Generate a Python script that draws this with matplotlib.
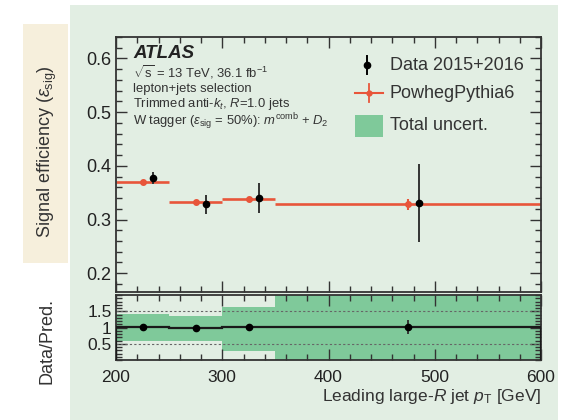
import numpy as np
import matplotlib
matplotlib.use("Agg")
import matplotlib.pyplot as plt
from matplotlib.patches import Rectangle
from matplotlib.lines import Line2D
from matplotlib.ticker import MultipleLocator, FixedLocator, FixedFormatter

plt.rcParams['font.family'] = ['Liberation Sans', 'DejaVu Sans']
plt.rcParams['mathtext.fontset'] = 'custom'
plt.rcParams['mathtext.rm'] = 'Liberation Sans'
plt.rcParams['mathtext.it'] = 'Liberation Sans:italic'
plt.rcParams['mathtext.bf'] = 'Liberation Sans:bold'

# pT bins [GeV]
bin_edges = [200, 250, 300, 350, 600]
mc_x = [225, 275, 325, 475]
data_x = [235, 285, 335, 485]

# signal efficiency
mc_eff = [0.370, 0.333, 0.339, 0.328]
mc_err = [0.002, 0.002, 0.002, 0.010]
data_eff = [0.378, 0.328, 0.340, 0.331]
data_err = [0.011, 0.017, 0.028, 0.072]

# total uncertainty band on the ratio
band_low = [0.60, 0.60, 0.29, 0.0]
band_high = [1.41, 1.34, 1.64, 2.0]

GREEN_BG = '#e2eee3'
BEIGE = '#f6efdc'
BAND = '#7fc99a'
RED = '#e8553a'
FRAME = '#333333'

W, H = 562, 420
fig = plt.figure(figsize=(W / 100, H / 100), dpi=100)
fig.patch.set_facecolor('white')

def fx(px):
    return px / W

def fy(py):
    return 1 - py / H

# panel backgrounds
fig.add_artist(Rectangle((fx(70), 0), fx(558) - fx(70), fy(5), transform=fig.transFigure,
                         facecolor=GREEN_BG, edgecolor='none', zorder=-10))
fig.add_artist(Rectangle((fx(23), fy(263)), fx(68) - fx(23), fy(24) - fy(263),
                         transform=fig.transFigure, facecolor=BEIGE, edgecolor='none', zorder=-10))

ax = fig.add_axes([fx(116), fy(292), fx(541) - fx(116), fy(37) - fy(292)])
ax2 = fig.add_axes([fx(116), fy(360), fx(541) - fx(116), fy(295) - fy(360)])

for a in (ax, ax2):
    a.set_facecolor('none')
    for s in a.spines.values():
        s.set_color(FRAME)
        s.set_linewidth(1.3)
    a.tick_params(which='both', direction='in', top=True, right=True, color=FRAME,
                  labelsize=13, labelcolor='#222222', width=1.0)
    a.tick_params(which='major', length=8)
    a.tick_params(which='minor', length=4)
    a.set_xlim(200, 600)
    a.xaxis.set_major_locator(MultipleLocator(100))
    a.xaxis.set_minor_locator(MultipleLocator(20))

# top panel: efficiencies
ax.set_ylim(0.165, 0.64)
ax.yaxis.set_major_locator(MultipleLocator(0.1))
ax.yaxis.set_minor_locator(MultipleLocator(0.02))
ax.tick_params(labelbottom=False)

ax.hlines(mc_eff, bin_edges[:-1], bin_edges[1:], color=RED, lw=1.9, zorder=2)
ax.errorbar(mc_x, mc_eff, yerr=mc_err, fmt='o', color=RED, ms=4, elinewidth=1.5,
            capsize=0, zorder=3)
ax.errorbar(data_x, data_eff, yerr=data_err, fmt='o', color='black', ms=4.5,
            elinewidth=1.4, ecolor='#333333', capsize=0, zorder=4)

# labels in the top panel
ax.text(0.04, 0.937, 'ATLAS', transform=ax.transAxes, fontsize=13.5, fontweight='bold',
        fontstyle='italic', va='center', ha='left', color='#222222')
info = [
    (0.861, r'$\sqrt{\mathrm{s}}$ = 13 TeV, 36.1 fb$^{-1}$'),
    (0.798, 'lepton+jets selection'),
    (0.737, r'Trimmed anti-$k_{t}$, $R$=1.0 jets'),
    (0.668, r'W tagger ($\epsilon_{\mathrm{sig}}$ = 50%): $m^{\mathrm{comb}}$ + $D_{2}$'),
]
for yy, t in info:
    ax.text(0.04, yy, t, transform=ax.transAxes, fontsize=9.4, va='center', ha='left',
            color='#333333')

# legend
tx = 0.6447
ax.add_line(Line2D([0.5906], [0.890], marker='o', ms=4.5, color='black',
                   transform=ax.transAxes))
ax.add_line(Line2D([0.5906, 0.5906], [0.855, 0.925], lw=1.4, color='black',
                   transform=ax.transAxes))
ax.text(tx, 0.890, 'Data 2015+2016', transform=ax.transAxes, fontsize=13, va='center',
        color='#333333')
ax.add_line(Line2D([0.5624, 0.6282], [0.780, 0.780], lw=1.5, color=RED,
                   transform=ax.transAxes))
ax.add_line(Line2D([0.5953, 0.5953], [0.745, 0.815], lw=1.3, color=RED,
                   transform=ax.transAxes))
ax.add_line(Line2D([0.5953], [0.780], marker='o', ms=3.5, color=RED,
                   transform=ax.transAxes))
ax.text(tx, 0.780, 'PowhegPythia6', transform=ax.transAxes, fontsize=13, va='center',
        color='#333333')
ax.add_patch(Rectangle((0.5624, 0.608), 0.0658, 0.086, transform=ax.transAxes,
                       facecolor=BAND, edgecolor='none'))
ax.text(tx, 0.651, 'Total uncert.', transform=ax.transAxes, fontsize=13, va='center',
        color='#333333')

# ratio panel
edges = np.array(bin_edges, dtype=float)
widths = np.diff(edges)
lo = np.array(band_low)
hi = np.array(band_high)
ax2.bar(edges[:-1], hi - lo, bottom=lo, width=widths, align='edge', color=BAND,
        edgecolor='none', zorder=1)
ratio = np.array(data_eff) / np.array(mc_eff)
ratio_err = np.array(data_err) / np.array(mc_eff)
ax2.stairs(ratio, edges, color='#1a1a1a', lw=1.6, zorder=3)
ax2.errorbar(mc_x, ratio, yerr=ratio_err, fmt='o', color='black', ms=4.5,
             elinewidth=1.4, ecolor='#333333', capsize=0, zorder=4)
for yv in (0.5, 1.5):
    ax2.axhline(yv, color='#666666', lw=0.8, ls=(0, (2, 2)), zorder=2)
ax2.set_ylim(0, 2)
ax2.yaxis.set_major_locator(FixedLocator([0.5, 1.0, 1.5]))
ax2.yaxis.set_major_formatter(FixedFormatter(['0.5', '1', '1.5']))
ax2.yaxis.set_minor_locator(MultipleLocator(0.1))
ax2.tick_params(axis='x', pad=7, labelsize=12.5)
ax2.tick_params(axis='y', labelsize=12.5, pad=3)

# axis titles
fig.text(fx(47), fy(152), r'Signal efficiency ($\epsilon_{\mathrm{sig}}$)', rotation=90,
         ha='center', va='center', fontsize=13, color='#333333')
fig.text(fx(47), fy(341), 'Data/Pred.', rotation=90, ha='center', va='center',
         fontsize=13, color='#333333')
fig.text(fx(541), fy(397), r'Leading large-$R$ jet $p_{\mathrm{T}}$ [GeV]', ha='right',
         va='center', fontsize=12.5, color='#333333')

fig.savefig('out.png', dpi=100)
